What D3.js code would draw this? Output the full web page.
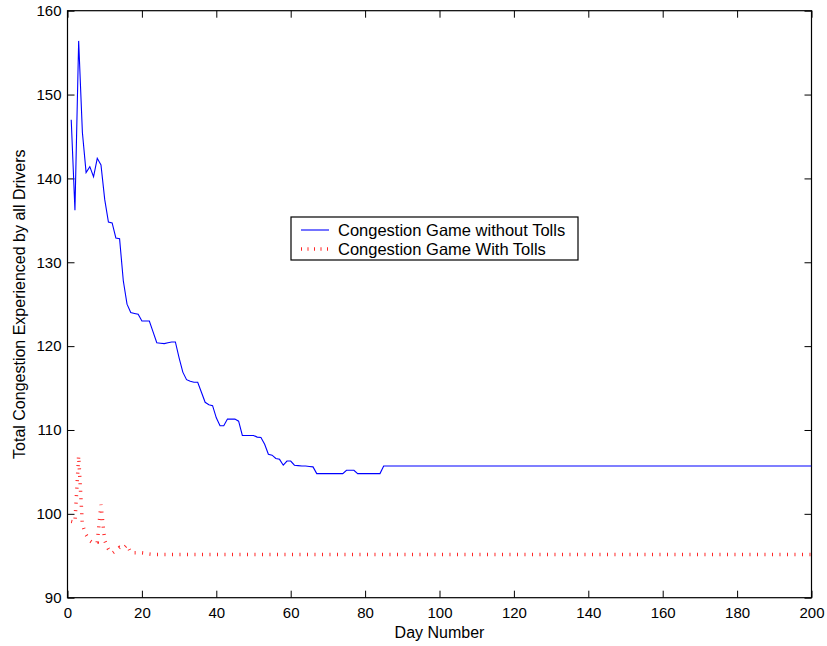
<!DOCTYPE html>
<html>
<head>
<meta charset="utf-8">
<script src="https://cdn.jsdelivr.net/npm/d3@7"></script>
<style>
  html, body { margin: 0; padding: 0; background: #fff; }
  svg { display: block; }
  text { font-family: "Liberation Sans", Arial, Helvetica, sans-serif; fill: #000; }
</style>
</head>
<body>
<svg id="chart" width="827" height="646"></svg>
<script>
// ---- data ----
const xTicks = [0, 20, 40, 60, 80, 100, 120, 140, 160, 180, 200];
const yTicks = [90, 100, 110, 120, 130, 140, 150, 160];
const seriesNames = ["Congestion Game without Tolls", "Congestion Game With Tolls"];

// Without tolls: day numbers and congestion values (breakpoints)
const daysNoToll = [1,2,3,4,5,6,7,8,9,10,11,12,13,14,15,16,17,18,19,20,
  21,22,23,24,25,26,27,28,29,30,31,32,33,34,35,36,37,38,39,40,
  41,42,43,44,45,46,47,48,49,50,51,52,53,54,55,56,57,58,59,60,
  61,62,63,64,65,66,67,74,75,76,77,78,84,85,200];
const valuesNoToll = [147.0,136.2,156.4,145.5,140.7,141.4,140.2,142.4,141.6,137.5,134.8,134.7,132.9,132.8,127.8,125.0,124.0,123.9,123.8,123.0,
  123.0,123.0,121.7,120.4,120.35,120.3,120.4,120.5,120.5,118.6,116.9,116.0,115.8,115.7,115.7,114.5,113.3,113.0,112.9,111.45,
  110.5,110.5,111.3,111.3,111.3,111.05,109.35,109.35,109.35,109.35,109.15,109.1,108.3,107.1,107.0,106.6,106.5,105.8,106.3,106.3,
  105.8,105.75,105.7,105.7,105.65,105.6,104.8,104.8,105.2,105.2,105.2,104.8,104.8,105.7,105.7];

// With tolls
const daysToll = [1,2,3,4,5,6,7,8,9,10,11,12,13,14,15,16,17,18,19,20,21,22,23,200];
const valuesToll = [99.1,99.0,106.9,98.7,97.5,96.8,96.5,96.6,101.1,96.8,95.8,95.3,95.6,96.0,95.85,96.3,95.4,95.35,95.35,95.35,95.3,95.2,95.15,95.15];

// ---- layout ----
const svg = d3.select("#chart");
const L = 67.5, R = 811.5, T = 10.7, B = 597.7;
const x = d3.scaleLinear().domain([0, 200]).range([L, R]);
const y = d3.scaleLinear().domain([90, 160]).range([B, T]);

const g = svg.append("g");

// frame
g.append("rect").attr("x", L).attr("y", T).attr("width", R - L).attr("height", B - T)
  .attr("fill", "none").attr("stroke", "#000").attr("stroke-width", 1.2);

// axes (ticks inside)
const tickLen = 7;
const xAxis = d3.axisBottom(x).tickValues(xTicks).tickSizeInner(-tickLen).tickSizeOuter(0).tickPadding(10);
const yAxis = d3.axisLeft(y).tickValues(yTicks).tickSizeInner(-tickLen).tickSizeOuter(0).tickPadding(6);
const xTop = d3.axisTop(x).tickValues(xTicks).tickSizeInner(-tickLen).tickSizeOuter(0).tickFormat("");
const yRight = d3.axisRight(y).tickValues(yTicks).tickSizeInner(-tickLen).tickSizeOuter(0).tickFormat("");

function styleAxis(sel) {
  sel.select(".domain").remove();
  sel.selectAll(".tick line").attr("stroke", "#000").attr("stroke-width", 1);
  sel.selectAll(".tick text").attr("font-size", "15px")
    .attr("font-family", "'Liberation Sans', Arial, Helvetica, sans-serif").attr("fill", "#000");
}
g.append("g").attr("transform", `translate(0,${B})`).call(xAxis).call(styleAxis);
g.append("g").attr("transform", `translate(${L},0)`).call(yAxis).call(styleAxis);
g.append("g").attr("transform", `translate(0,${T})`).call(xTop).call(styleAxis);
g.append("g").attr("transform", `translate(${R},0)`).call(yRight).call(styleAxis);

// axis labels
g.append("text").attr("x", (L + R) / 2).attr("y", 638).attr("text-anchor", "middle")
  .attr("font-size", "16px").text("Day Number");
g.append("text").attr("transform", `translate(25,${(T + B) / 2}) rotate(-90)`)
  .attr("text-anchor", "middle").attr("font-size", "16px")
  .text("Total Congestion Experienced by all Drivers");

// lines
const line = d3.line().x(d => x(d[0])).y(d => y(d[1]));
const clip = svg.append("clipPath").attr("id", "clip").append("rect")
  .attr("x", L).attr("y", T).attr("width", R - L).attr("height", B - T);

g.append("path").datum(d3.zip(daysNoToll, valuesNoToll))
  .attr("d", line).attr("fill", "none").attr("stroke", "#0000ff").attr("stroke-width", 1.1)
  .attr("clip-path", "url(#clip)");

g.append("path").datum(d3.zip(daysToll, valuesToll))
  .attr("d", line).attr("fill", "none").attr("stroke", "#ff0000").attr("stroke-width", 3.5)
  .attr("stroke-dasharray", "1,6.5").attr("stroke-opacity", 0.85)
  .attr("clip-path", "url(#clip)");

// legend
const lg = g.append("g");
lg.append("rect").attr("x", 291).attr("y", 217).attr("width", 287).attr("height", 43)
  .attr("fill", "#fff").attr("stroke", "#000").attr("stroke-width", 1.2);
const legendRows = [
  { name: seriesNames[0], color: "#0000ff", dash: null, width: 1.1, cy: 230 },
  { name: seriesNames[1], color: "#ff0000", dash: "1,5.5", width: 3.5, cy: 249 }
];
legendRows.forEach(r => {
  const ln = lg.append("line").attr("x1", 301).attr("x2", 329).attr("y1", r.cy).attr("y2", r.cy)
    .attr("stroke", r.color).attr("stroke-width", r.width);
  if (r.dash) ln.attr("stroke-dasharray", r.dash).attr("stroke-opacity", 0.85);
  lg.append("text").attr("x", 338).attr("y", r.cy + 5.5).attr("font-size", "16.5px").text(r.name);
});
</script>
</body>
</html>
